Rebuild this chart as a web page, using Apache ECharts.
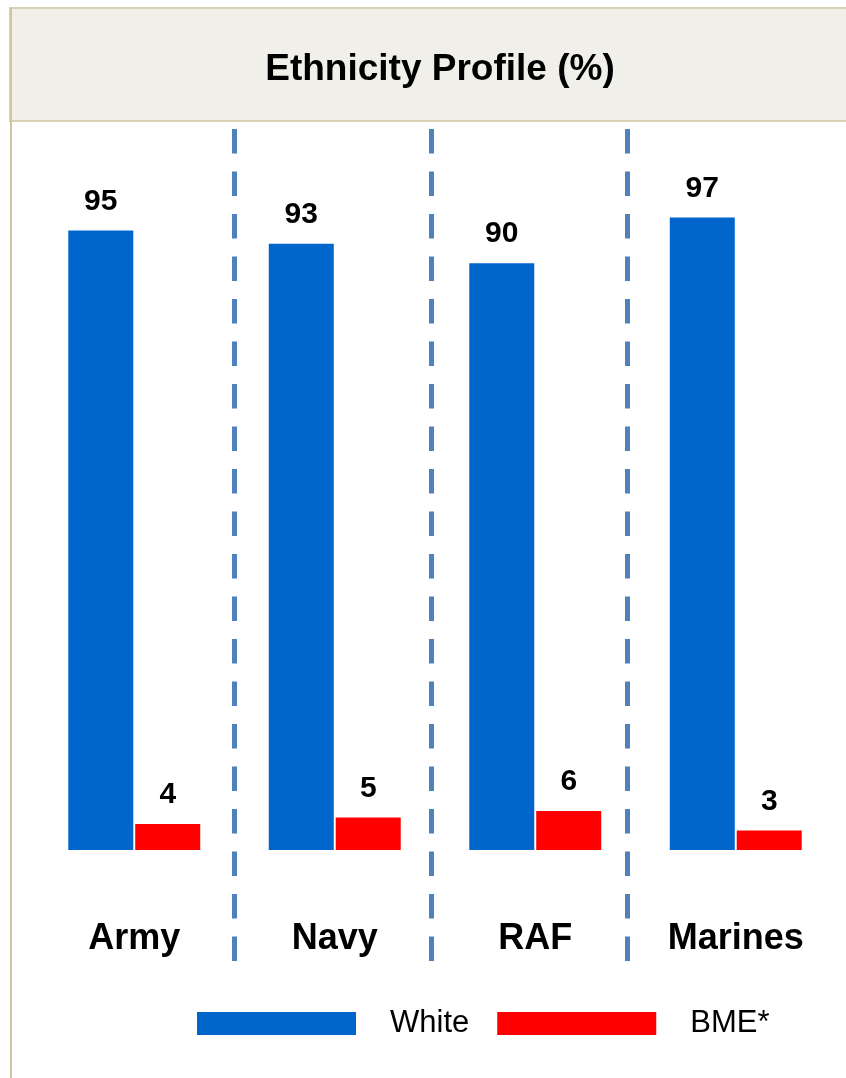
<!DOCTYPE html>
<html>
<head>
<meta charset="utf-8">
<script src="https://cdn.jsdelivr.net/npm/echarts@6/dist/echarts.min.js"></script>
<style>
html,body{margin:0;padding:0;background:#fff;}
#main{width:846px;height:1078px;}
</style>
</head>
<body>
<div id="main"></div>
<script>
var categories = ['Army', 'Navy', 'RAF', 'Marines'];
var whiteValues = [95, 93, 90, 97];
var bmeValues = [4, 5, 6, 3];
var seriesNames = ['White', 'BME*'];
var titleText = 'Ethnicity Profile (%)';
var separatorPositions = [0.5025, 1.48, 2.463];

var chart = echarts.init(document.getElementById('main'));
var FONT = '"Liberation Sans", Arial, sans-serif';

var option = {
  animation: false,
  backgroundColor: '#ffffff',
  title: {
    text: titleText,
    left: 435,
    top: 46,
    textAlign: 'center',
    textStyle: { fontFamily: FONT, fontSize: 37, fontWeight: 'bold', color: '#000' }
  },
  graphic: [
    { type: 'rect', z: -10, shape: { x: 10, y: 8, width: 860, height: 113 },
      style: { fill: '#F0EFE9', stroke: '#D8D1B4', lineWidth: 2 } },
    { type: 'line', z: -9, shape: { x1: 11, y1: 8, x2: 11, y2: 1078 },
      style: { stroke: '#CFC7A3', lineWidth: 2 } }
  ],
  legend: {
    data: seriesNames,
    left: 192,
    top: 1003,
    icon: 'rect',
    itemWidth: 159,
    itemHeight: 23,
    itemGap: 28,
    textStyle: { fontFamily: FONT, fontSize: 31, color: '#000', padding: [2, 0, 0, 29] }
  },
  grid: [
    { left: 34, right: 10, top: 198, bottom: 228 },
    { left: 34, right: 10, top: 129, bottom: 117 }
  ],
  xAxis: [
    {
      type: 'category', gridIndex: 0, data: categories,
      axisLine: { show: false }, axisTick: { show: false },
      axisLabel: { margin: 71, fontFamily: FONT, fontSize: 36, fontWeight: 'bold', color: '#000' }
    },
    { type: 'value', gridIndex: 1, min: -0.5, max: 3.5, show: false }
  ],
  yAxis: [
    { type: 'value', gridIndex: 0, min: 0, max: 100, show: false },
    { type: 'value', gridIndex: 1, min: 0, max: 1, show: false }
  ],
  series: [
    {
      name: seriesNames[0], type: 'bar', data: whiteValues,
      barWidth: 65, barGap: '3%',
      itemStyle: { color: '#0066CC' },
      label: { show: true, position: 'top', distance: 14, fontFamily: FONT, fontSize: 30, fontWeight: 'bold', color: '#000' }
    },
    {
      name: seriesNames[1], type: 'bar', data: bmeValues,
      barWidth: 65,
      itemStyle: { color: '#FF0000' },
      label: { show: true, position: 'top', distance: 14, fontFamily: FONT, fontSize: 30, fontWeight: 'bold', color: '#000' }
    },
    {
      type: 'line', xAxisIndex: 1, yAxisIndex: 1, data: [], silent: true,
      markLine: {
        silent: true, symbol: 'none', animation: false,
        label: { show: false },
        lineStyle: { type: [24.5, 18], width: 5, color: '#4F81BD' },
        data: separatorPositions.map(function (v) { return { xAxis: v }; })
      }
    }
  ]
};
chart.setOption(option);
</script>
</body>
</html>
